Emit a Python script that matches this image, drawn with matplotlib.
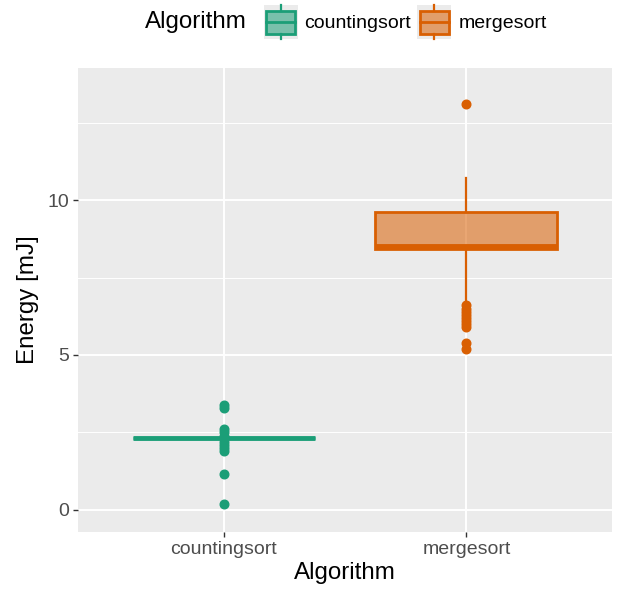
import matplotlib
matplotlib.use("Agg")
import matplotlib.pyplot as plt
from matplotlib.patches import Rectangle
from matplotlib.lines import Line2D
from matplotlib.legend_handler import HandlerBase
from matplotlib.offsetbox import HPacker

plt.rcParams["font.family"] = ["Liberation Sans", "DejaVu Sans"]

categories = ["countingsort", "mergesort"]
q1 = [2.33, 8.42]
median = [2.33, 8.53]
q3 = [2.33, 9.62]
whislo = [2.33, 6.7]
whishi = [2.33, 10.7]
fliers = [
    [3.4, 3.3, 2.6, 2.5, 2.4, 2.2, 2.1, 2.0, 1.9, 1.16, 0.19],
    [13.1, 6.6, 6.5, 6.4, 6.3, 6.2, 6.1, 6.0, 5.9, 5.4, 5.2],
]
colors = ["#1B9E77", "#D95F02"]
yticks = [0, 5, 10]

FILL_ALPHA = "8C"

fig = plt.figure(figsize=(6.21, 5.89), dpi=100)
ax = fig.add_axes([0.1256, 0.0968, 0.86, 0.7878])
ax.set_facecolor("#EBEBEB")
for s in ax.spines.values():
    s.set_visible(False)

stats = []
for i, c in enumerate(categories):
    stats.append(dict(label=c, q1=q1[i], med=median[i], q3=q3[i],
                      whislo=whislo[i], whishi=whishi[i], fliers=fliers[i]))

for i, st in enumerate(stats):
    col = colors[i]
    ax.bxp([st], positions=[i + 1], widths=0.75, patch_artist=True,
           showcaps=False,
           boxprops=dict(facecolor=col + FILL_ALPHA, edgecolor=col, linewidth=2.0),
           medianprops=dict(color=col, linewidth=3.5, solid_capstyle="butt"),
           whiskerprops=dict(color=col, linewidth=1.6),
           flierprops=dict(marker="o", markerfacecolor=col, markeredgecolor=col,
                           markersize=6.2, linestyle="none"),
           zorder=3)

ax.set_xlim(0.4, 2.6)
ax.set_ylim(-0.71, 14.26)
ax.set_yticks(yticks)
ax.set_yticks([2.5, 7.5, 12.5], minor=True)
ax.set_xticks([1, 2])
ax.set_xticklabels(categories)
ax.grid(True, which="major", color="white", linewidth=1.4, zorder=0)
ax.grid(True, which="minor", axis="y", color="white", linewidth=0.7, zorder=0)
ax.set_axisbelow(True)
ax.tick_params(axis="both", which="major", length=3.5, width=1.0, color="#333333",
               labelsize=14, labelcolor="#4D4D4D", pad=3)
ax.tick_params(axis="y", which="minor", length=0)
ax.set_xlabel("Algorithm", fontsize=17.4, color="black", labelpad=3)
ax.set_ylabel("Energy [mJ]", fontsize=17.4, color="black", labelpad=6)


class BoxHandler(HandlerBase):
    def __init__(self, col):
        super().__init__()
        self.col = col

    def create_artists(self, legend, orig_handle, xdescent, ydescent, width, height,
                       fontsize, trans):
        col = self.col
        x0, y0 = -xdescent, -ydescent
        bg = Rectangle((x0, y0), width, height,
                       facecolor="#EBEBEB", edgecolor="none", transform=trans)
        bx0 = x0 + width * 0.08
        bw = width * 0.84
        by0 = y0 + height * 0.17
        bh = height * 0.66
        box = Rectangle((bx0, by0), bw, bh, facecolor=col + FILL_ALPHA,
                        edgecolor=col, linewidth=2.0, transform=trans)
        cx = x0 + width / 2
        med = Line2D([bx0, bx0 + bw], [y0 + height / 2] * 2, color=col,
                     linewidth=2.0, transform=trans)
        w1 = Line2D([cx, cx], [by0 + bh, y0 + height], color=col,
                    linewidth=1.6, transform=trans)
        w2 = Line2D([cx, cx], [y0, by0], color=col,
                    linewidth=1.6, transform=trans)
        return [bg, box, med, w1, w2]


handles = [Rectangle((0, 0), 1, 1) for _ in categories]
leg = fig.legend(handles, categories, loc="center", bbox_to_anchor=(0.557, 0.962),
                 ncol=2, frameon=False, fontsize=14, title="Algorithm",
                 title_fontsize=17.4,
                 handler_map={handles[0]: BoxHandler(colors[0]),
                              handles[1]: BoxHandler(colors[1])},
                 handlelength=1.75, handleheight=2.3, handletextpad=0.36,
                 columnspacing=0.31, borderaxespad=0, borderpad=0)
title_box = leg._legend_title_box
body = leg._legend_handle_box
leg._legend_box._children = [HPacker(pad=0, sep=12, align="center",
                                     children=[title_box, body])]

fig.savefig("out.png", dpi=100)
